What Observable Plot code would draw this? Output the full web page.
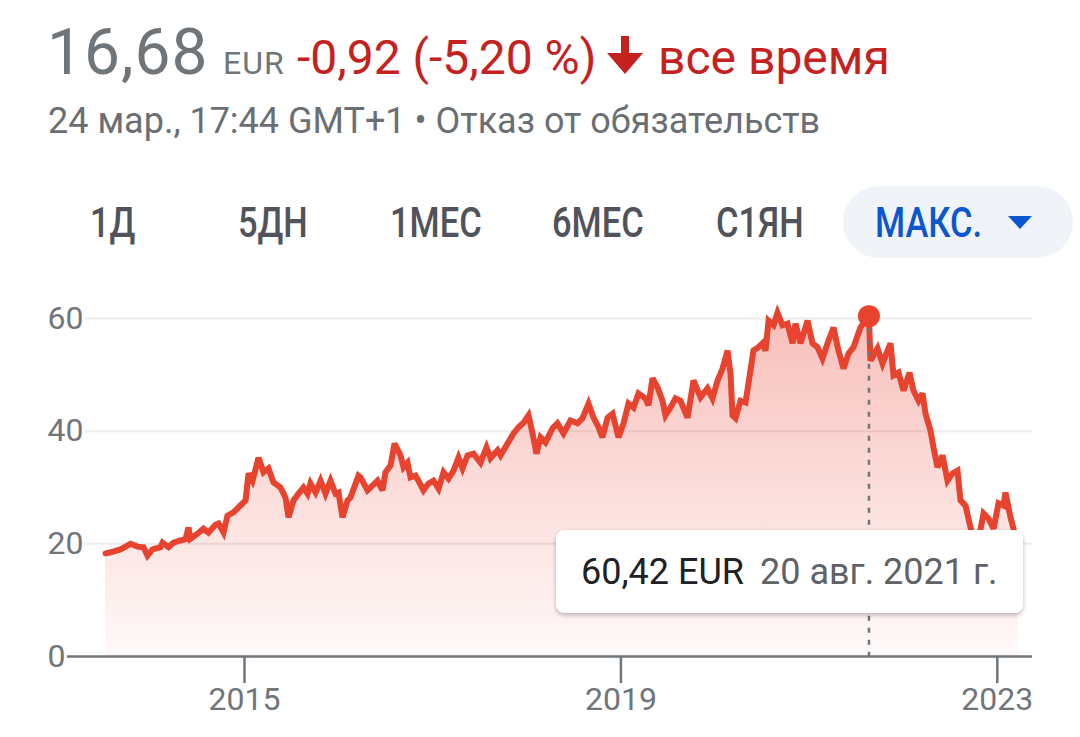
<!DOCTYPE html>
<html><head><meta charset="utf-8">
<script src="https://cdn.jsdelivr.net/npm/d3@7"></script>
<script src="https://cdn.jsdelivr.net/npm/@observablehq/plot@0.6"></script>
<style>
body{margin:0;background:#fff;font-family:Roboto,"Noto Sans",sans-serif;}
#root{position:relative;width:1080px;height:737px;overflow:hidden;background:#fff;}
.abs{position:absolute;white-space:nowrap;line-height:1;}
.tab{position:absolute;white-space:nowrap;line-height:1;font-size:42px;font-weight:500;color:#50545a;transform:scaleX(0.82);transform-origin:0 0;top:202px;}
#chart{position:absolute;left:0;top:280px;}
#tip{position:absolute;left:556px;top:530px;width:467px;height:83px;background:#fff;border-radius:8px;box-shadow:0 2px 4px rgba(0,0,0,0.28);}
</style></head>
<body><div id="root">
  <div class="abs" style="left:47px;top:21px;font-size:64px;letter-spacing:1px;color:#70757a;">16,68</div>
  <div class="abs" style="left:223px;top:47px;font-size:32px;letter-spacing:1px;color:#70757a;">EUR</div>
  <div class="abs" style="left:297px;top:34px;font-size:48px;color:#c5221f;">-0,92 (-5,20 %)</div>
  <svg class="abs" style="left:607px;top:36px" width="36" height="38" viewBox="0 0 36 38"><path d="M14 0h8v17h14L18 38 0 17h14z" fill="#c5221f"/></svg>
  <div class="abs" style="left:658px;top:34px;font-size:48px;color:#c5221f;">все время</div>
  <div class="abs" style="left:48px;top:103px;font-size:36px;color:#6b6f74;">24 мар., 17:44 GMT+1 • Отказ от обязательств</div>

  <div class="abs" style="left:843px;top:186px;width:230px;height:72px;border-radius:36px;background:#f0f4f9;"></div>
  <div class="tab" style="left:90px;">1Д</div>
  <div class="tab" style="left:238px;">5ДН</div>
  <div class="tab" style="left:390px;">1МЕС</div>
  <div class="tab" style="left:552px;">6МЕС</div>
  <div class="tab" style="left:716px;">С1ЯН</div>
  <div class="tab" style="left:875px;color:#0b57d0;">МАКС.</div>
  <svg class="abs" style="left:1008px;top:216px" width="24" height="13" viewBox="0 0 24 13"><path d="M0 0h24L12 13z" fill="#0b57d0"/></svg>

  <div id="chart"></div>
  <div id="tip">
    <div class="abs" style="left:25px;top:24px;font-size:36px;color:#202124;">60,42 EUR</div>
    <div class="abs" style="left:204px;top:24px;font-size:36px;color:#5f6368;">20 авг. 2021 г.</div>
  </div>
</div>
<script>
// time in decimal years
const years = [
2013.523,2013.576,2013.682,2013.789,2013.863,2013.927,2013.969,2014.022,2014.107,2014.129,
2014.192,2014.245,2014.320,2014.373,2014.405,2014.426,2014.501,2014.564,2014.617,2014.692,
2014.724,2014.777,2014.819,2014.883,2014.957,2015.011,2015.043,2015.085,2015.149,2015.202,
2015.255,2015.308,2015.383,2015.436,2015.468,2015.521,2015.574,2015.627,2015.670,2015.701,
2015.755,2015.808,2015.861,2015.914,2015.967,2015.999,2016.041,2016.095,2016.126,2016.211,
2016.233,2016.307,2016.413,2016.467,2016.498,2016.552,2016.594,2016.658,2016.690,2016.732,
2016.764,2016.817,2016.849,2016.902,2016.955,2017.008,2017.062,2017.115,2017.168,2017.221,
2017.274,2017.317,2017.370,2017.434,2017.508,2017.572,2017.614,2017.689,2017.721,2017.795,
2017.859,2017.912,2017.965,2018.018,2018.061,2018.103,2018.146,2018.199,2018.273,2018.326,
2018.390,2018.464,2018.539,2018.592,2018.656,2018.709,2018.762,2018.804,2018.858,2018.911,
2018.974,2019.028,2019.081,2019.134,2019.187,2019.261,2019.293,2019.336,2019.389,2019.442,
2019.474,2019.527,2019.580,2019.633,2019.708,2019.772,2019.846,2019.920,2019.973,2020.027,
2020.080,2020.133,2020.165,2020.186,2020.218,2020.271,2020.324,2020.356,2020.409,2020.462,
2020.505,2020.537,2020.569,2020.622,2020.664,2020.717,2020.770,2020.824,2020.855,2020.909,
2020.983,2021.036,2021.089,2021.142,2021.196,2021.259,2021.312,2021.366,2021.419,2021.472,
2021.546,2021.636,2021.652,2021.727,2021.780,2021.833,2021.865,2021.897,2021.950,2022.003,
2022.067,2022.109,2022.163,2022.205,2022.237,2022.290,2022.322,2022.364,2022.418,2022.471,
2022.524,2022.577,2022.609,2022.662,2022.715,2022.768,2022.823,2022.853,2022.906,2022.960,
2023.013,2023.066,2023.087,2023.140,2023.172,2023.225
];
const prices = [
18.3,18.5,19.0,20.0,19.5,19.4,17.9,19.0,19.4,20.2,
19.4,20.2,20.6,20.8,22.9,20.9,21.8,22.7,22.0,23.4,
23.6,22.0,25.0,25.6,26.8,27.7,32.5,31.2,35.3,32.7,
33.4,30.9,30.0,28.2,24.7,27.7,28.9,30.0,28.9,30.7,
29.1,31.2,28.9,31.2,28.9,29.1,24.7,27.7,28.2,32.1,
31.8,29.5,31.2,29.5,32.7,33.9,37.8,35.7,33.6,34.4,
31.8,32.1,31.2,29.5,30.7,31.2,29.8,32.7,31.6,33.0,
35.3,33.4,35.7,36.0,34.4,37.1,35.2,36.6,35.7,37.8,
39.6,40.7,41.5,42.8,39.6,36.0,38.9,38.0,40.5,41.4,
39.6,41.9,41.4,42.3,44.9,42.4,40.7,38.9,42.4,43.1,
38.9,41.4,44.9,44.2,46.7,45.8,44.6,49.4,47.8,45.4,
42.8,44.2,45.8,45.4,42.4,49.0,46.0,47.6,45.8,49.0,
51.1,54.3,50.2,42.8,42.3,45.4,45.1,48.5,54.3,54.9,
55.6,54.3,59.6,58.8,61.0,58.8,59.1,55.6,59.1,55.6,
59.6,55.6,54.9,52.9,55.6,58.4,54.3,51.1,53.8,54.9,
58.4,60.42,52.5,54.7,52.0,54.3,55.6,49.9,50.4,47.2,
50.4,47.2,45.4,46.7,43.1,40.1,37.1,33.6,35.7,31.2,
32.5,33.0,27.7,26.8,22.9,20.0,22.7,25.4,24.5,22.7,
27.2,26.8,29.1,24.7,22.7,16.68
];
const yTicks = [0, 20, 40, 60];
const xTicks = [2015, 2019, 2023];
const xTickLabels = ["2015", "2019", "2023"];
const xDomain = [2013.119, 2023.374];
const peakYear = [2021.636];
const peakPrice = [60.42];

const data = years.map((t, i) => ({t, v: prices[i]}));
const peak = peakYear.map((t, i) => ({t, v: peakPrice[i]}));

const defs = () => {
  const d = document.createElementNS("http://www.w3.org/2000/svg", "defs");
  d.innerHTML = '<linearGradient id="areaFill" x1="0" y1="0" x2="0" y2="1">' +
    '<stop offset="0" stop-color="#ea4335" stop-opacity="0.34"/>' +
    '<stop offset="1" stop-color="#ea4335" stop-opacity="0.03"/></linearGradient>';
  return d;
};

const chart = Plot.plot({
  width: 1080, height: 457,
  marginTop: 38, marginBottom: 81, marginLeft: 67, marginRight: 48,
  x: {domain: xDomain},
  y: {domain: [0, 60], axis: null},
  style: {fontFamily: "Roboto", color: "#70757a", background: "transparent", overflow: "visible"},
  marks: [
    defs,
    Plot.ruleY(yTicks.filter(d => d > 0), {stroke: "#ececec", strokeWidth: 2, insetLeft: 18}),
    Plot.text(yTicks, {y: d => d, text: d => String(d), frameAnchor: "left", textAnchor: "start", dx: -20, fontSize: 32, fill: "#70757a"}),
    Plot.areaY(data, {x: "t", y: "v", fill: "url(#areaFill)"}),
    Plot.line(data, {x: "t", y: "v", stroke: "#e8432f", strokeWidth: 6, strokeLinejoin: "miter", strokeMiterlimit: 3}),
    Plot.ruleY([0], {stroke: "#70757a", strokeWidth: 2.5}),
    Plot.axisX({ticks: xTicks, tickFormat: d => xTickLabels[xTicks.indexOf(d)], tickSize: 27, tickPadding: 4, fontSize: 32, stroke: "#70757a", strokeWidth: 2.5, label: null}),
    Plot.ruleX(peak, {x: "t", y1: "v", y2: 0, stroke: "#70757a", strokeWidth: 2.5, strokeDasharray: "5,7"}),
    Plot.dot(peak, {x: "t", y: "v", r: 11, fill: "#e8432f"})
  ]
});
document.getElementById("chart").appendChild(chart);
</script>
</body></html>
